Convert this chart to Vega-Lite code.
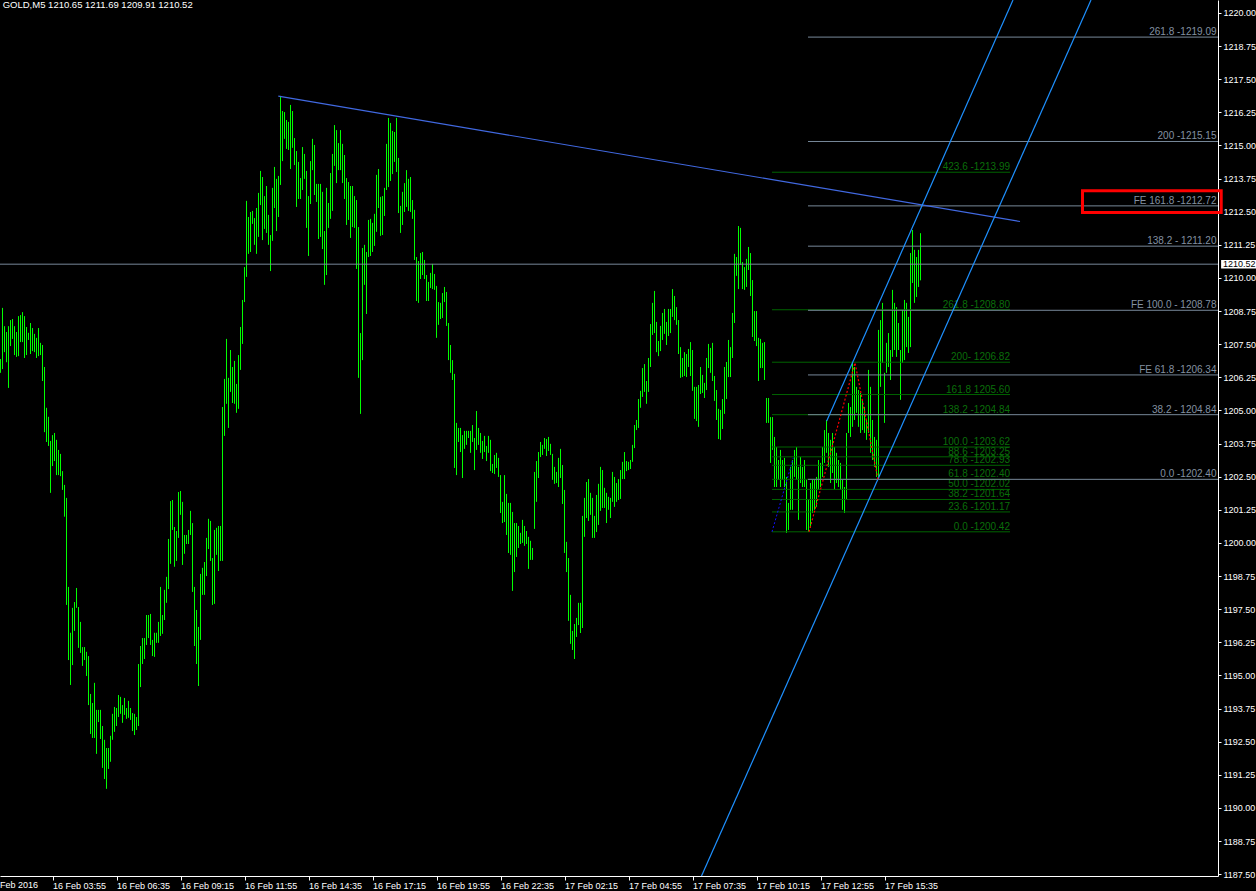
{
"$schema":"https://vega.github.io/schema/vega-lite/v6.json",
"width":1218,"height":876,
"autosize":{"type":"none"},
"padding":{"left":0,"top":0,"right":38,"bottom":15},
"background":"#000000",
"config":{"view":{"stroke":null},"axis":{"grid":false,"title":null,"labelOverlap":false,"labelFlush":false,"labelBound":false},"font":"Liberation Sans"},
"datasets":{
"bars":[
{"i":0,"h":1206.94,"l":1206.42},{"i":1,"h":1208.87,"l":1206.56},{"i":2,"h":1208.18,"l":1207.2},{"i":3,"h":1207.96,"l":1206.82},{"i":4,"h":1208.18,"l":1205.85},{"i":5,"h":1208.41,"l":1207.43},{"i":6,"h":1208.45,"l":1207.7},{"i":7,"h":1208.18,"l":1207.09},{"i":8,"h":1207.96,"l":1207.02},{"i":9,"h":1208.56,"l":1207.05},
{"i":10,"h":1208.6,"l":1207.58},{"i":11,"h":1208.71,"l":1207.58},{"i":12,"h":1208.56,"l":1206.98},{"i":13,"h":1208.15,"l":1207.09},{"i":14,"h":1207.93,"l":1207.66},{"i":15,"h":1208.3,"l":1207.13},{"i":16,"h":1208.11,"l":1207.24},{"i":17,"h":1207.89,"l":1207.2},{"i":18,"h":1207.74,"l":1206.98},{"i":19,"h":1208.11,"l":1207.05},
{"i":20,"h":1207.55,"l":1207.09},{"i":21,"h":1207.47,"l":1206.11},{"i":22,"h":1206.64,"l":1204.18},{"i":23,"h":1205.1,"l":1203.81},{"i":24,"h":1204.76,"l":1203.66},{"i":25,"h":1203.85,"l":1201.89},{"i":26,"h":1204.07,"l":1202.9},{"i":27,"h":1204.15,"l":1203.09},{"i":28,"h":1203.89,"l":1202.56},{"i":29,"h":1203.51,"l":1202.56},
{"i":30,"h":1203.36,"l":1202.52},{"i":31,"h":1202.71,"l":1202.0},{"i":32,"h":1202.19,"l":1200.99},{"i":33,"h":1201.7,"l":1197.66},{"i":34,"h":1198.34,"l":1195.58},{"i":35,"h":1196.61,"l":1194.64},{"i":36,"h":1197.55,"l":1195.39},{"i":37,"h":1197.77,"l":1196.68},{"i":38,"h":1198.3,"l":1197.55},{"i":39,"h":1197.58,"l":1196.04},
{"i":40,"h":1197.02,"l":1195.85},{"i":41,"h":1196.07,"l":1195.36},{"i":42,"h":1196.07,"l":1195.58},{"i":43,"h":1195.89,"l":1194.98},{"i":44,"h":1195.73,"l":1193.88},{"i":45,"h":1194.3,"l":1192.79},{"i":46,"h":1193.96,"l":1192.64},{"i":47,"h":1194.72,"l":1192.64},{"i":48,"h":1193.7,"l":1192.04},{"i":49,"h":1193.7,"l":1193.24},
{"i":50,"h":1193.7,"l":1192.6},{"i":51,"h":1193.09,"l":1191.51},{"i":52,"h":1192.57,"l":1191.09},{"i":53,"h":1192.26,"l":1190.72},{"i":54,"h":1192.26,"l":1191.47},{"i":55,"h":1192.72,"l":1191.74},{"i":56,"h":1193.55,"l":1192.57},{"i":57,"h":1193.81,"l":1192.87},{"i":58,"h":1193.77,"l":1193.09},{"i":59,"h":1194.26,"l":1193.43},
{"i":60,"h":1194.19,"l":1193.55},{"i":61,"h":1193.88,"l":1193.21},{"i":62,"h":1194.15,"l":1193.51},{"i":63,"h":1193.77,"l":1193.36},{"i":64,"h":1194.04,"l":1193.4},{"i":65,"h":1193.77,"l":1193.32},{"i":66,"h":1193.58,"l":1192.9},{"i":67,"h":1193.55,"l":1192.75},{"i":68,"h":1193.43,"l":1192.94},{"i":69,"h":1195.43,"l":1193.09},
{"i":70,"h":1196.11,"l":1194.56},{"i":71,"h":1196.41,"l":1195.43},{"i":72,"h":1196.41,"l":1195.62},{"i":73,"h":1197.28,"l":1196.15},{"i":74,"h":1197.28,"l":1196.41},{"i":75,"h":1197.32,"l":1196.15},{"i":76,"h":1196.34,"l":1195.73},{"i":77,"h":1196.61,"l":1195.7},{"i":78,"h":1196.61,"l":1196.23},{"i":79,"h":1197.02,"l":1196.23},
{"i":80,"h":1198.34,"l":1196.49},{"i":81,"h":1197.28,"l":1196.57},{"i":82,"h":1198.23,"l":1197.09},{"i":83,"h":1198.72,"l":1197.74},{"i":84,"h":1200.15,"l":1198.26},{"i":85,"h":1201.58,"l":1199.21},{"i":86,"h":1201.62,"l":1200.49},{"i":87,"h":1200.6,"l":1199.1},{"i":88,"h":1200.45,"l":1199.32},{"i":89,"h":1201.92,"l":1200.19},
{"i":90,"h":1201.96,"l":1201.06},{"i":91,"h":1201.55,"l":1199.17},{"i":92,"h":1200.3,"l":1199.59},{"i":93,"h":1200.3,"l":1199.96},{"i":94,"h":1200.49,"l":1199.96},{"i":95,"h":1201.21,"l":1200.3},{"i":96,"h":1200.75,"l":1198.15},{"i":97,"h":1198.34,"l":1196.11},{"i":98,"h":1197.47,"l":1195.43},{"i":99,"h":1196.83,"l":1194.6},
{"i":100,"h":1198.83,"l":1196.34},{"i":101,"h":1199.06,"l":1198.04},{"i":102,"h":1199.28,"l":1198.04},{"i":103,"h":1200.19,"l":1198.75},{"i":104,"h":1200.91,"l":1199.77},{"i":105,"h":1200.83,"l":1199.32},{"i":106,"h":1199.43,"l":1197.66},{"i":107,"h":1200.49,"l":1197.7},{"i":108,"h":1200.57,"l":1199.55},{"i":109,"h":1200.64,"l":1198.94},
{"i":110,"h":1200.64,"l":1199.32},{"i":111,"h":1205.13,"l":1199.32},{"i":112,"h":1206.19,"l":1204.04},{"i":113,"h":1207.7,"l":1205.25},{"i":114,"h":1206.23,"l":1204.34},{"i":115,"h":1207.28,"l":1205.7},{"i":116,"h":1206.64,"l":1205.28},{"i":117,"h":1206.87,"l":1205.25},{"i":118,"h":1206.0,"l":1204.91},{"i":119,"h":1207.09,"l":1205.06},
{"i":120,"h":1208.15,"l":1206.53},{"i":121,"h":1209.17,"l":1207.51},{"i":122,"h":1210.41,"l":1209.09},{"i":123,"h":1212.91,"l":1210.04},{"i":124,"h":1212.3,"l":1210.91},{"i":125,"h":1212.49,"l":1210.98},{"i":126,"h":1212.53,"l":1212.04},{"i":127,"h":1212.26,"l":1211.25},{"i":128,"h":1212.64,"l":1210.91},{"i":129,"h":1213.21,"l":1211.55},
{"i":130,"h":1214.04,"l":1212.75},{"i":131,"h":1213.81,"l":1211.43},{"i":132,"h":1213.09,"l":1211.85},{"i":133,"h":1213.47,"l":1211.7},{"i":134,"h":1212.38,"l":1211.25},{"i":135,"h":1211.62,"l":1210.26},{"i":136,"h":1213.4,"l":1211.4},{"i":137,"h":1214.19,"l":1212.64},{"i":138,"h":1213.74,"l":1211.77},{"i":139,"h":1213.85,"l":1212.3},
{"i":140,"h":1216.87,"l":1213.51},{"i":141,"h":1216.3,"l":1214.41},{"i":142,"h":1216.26,"l":1215.25},{"i":143,"h":1215.96,"l":1214.87},{"i":144,"h":1215.89,"l":1214.83},{"i":145,"h":1216.53,"l":1214.11},{"i":146,"h":1216.3,"l":1214.91},{"i":147,"h":1215.28,"l":1214.26},{"i":148,"h":1214.79,"l":1212.68},{"i":149,"h":1214.38,"l":1212.98},
{"i":150,"h":1213.77,"l":1212.98},{"i":151,"h":1214.94,"l":1213.32},{"i":152,"h":1214.68,"l":1213.74},{"i":153,"h":1214.04,"l":1211.89},{"i":154,"h":1213.09,"l":1210.83},{"i":155,"h":1214.41,"l":1212.79},{"i":156,"h":1215.25,"l":1214.07},{"i":157,"h":1215.02,"l":1213.13},{"i":158,"h":1213.55,"l":1212.87},{"i":159,"h":1213.55,"l":1211.47},
{"i":160,"h":1213.55,"l":1211.55},{"i":161,"h":1213.25,"l":1211.09},{"i":162,"h":1211.77,"l":1209.74},{"i":163,"h":1213.4,"l":1210.11},{"i":164,"h":1212.83,"l":1211.89},{"i":165,"h":1213.96,"l":1212.23},{"i":166,"h":1214.68,"l":1212.53},{"i":167,"h":1215.77,"l":1214.23},{"i":168,"h":1215.58,"l":1213.58},{"i":169,"h":1215.09,"l":1214.07},
{"i":170,"h":1215.58,"l":1214.07},{"i":171,"h":1215.06,"l":1213.58},{"i":172,"h":1214.64,"l":1212.98},{"i":173,"h":1213.77,"l":1212.0},{"i":174,"h":1213.62,"l":1212.19},{"i":175,"h":1213.47,"l":1211.51},{"i":176,"h":1213.47,"l":1211.92},{"i":177,"h":1213.09,"l":1211.89},{"i":178,"h":1212.94,"l":1210.34},{"i":179,"h":1211.92,"l":1206.23},
{"i":180,"h":1207.92,"l":1204.87},{"i":181,"h":1211.13,"l":1206.9},{"i":182,"h":1211.25,"l":1209.74},{"i":183,"h":1210.98,"l":1208.64},{"i":184,"h":1212.19,"l":1210.79},{"i":185,"h":1212.23,"l":1210.83},{"i":186,"h":1212.08,"l":1210.98},{"i":187,"h":1212.42,"l":1211.21},{"i":188,"h":1213.89,"l":1211.74},{"i":189,"h":1214.11,"l":1212.64},
{"i":190,"h":1213.06,"l":1211.59},{"i":191,"h":1213.09,"l":1211.62},{"i":192,"h":1213.4,"l":1212.34},{"i":193,"h":1215.06,"l":1213.32},{"i":194,"h":1216.04,"l":1213.43},{"i":195,"h":1215.85,"l":1213.66},{"i":196,"h":1215.55,"l":1213.92},{"i":197,"h":1215.51,"l":1214.38},{"i":198,"h":1216.04,"l":1214.0},{"i":199,"h":1214.53,"l":1212.45},
{"i":200,"h":1212.72,"l":1211.7},{"i":201,"h":1213.25,"l":1212.0},{"i":202,"h":1213.58,"l":1212.49},{"i":203,"h":1214.07,"l":1212.68},{"i":204,"h":1213.74,"l":1212.53},{"i":205,"h":1213.81,"l":1212.49},{"i":206,"h":1212.94,"l":1212.23},{"i":207,"h":1212.57,"l":1210.68},{"i":208,"h":1210.79,"l":1209.13},{"i":209,"h":1210.64,"l":1209.06},
{"i":210,"h":1210.94,"l":1209.96},{"i":211,"h":1210.98,"l":1210.11},{"i":212,"h":1210.68,"l":1209.96},{"i":213,"h":1210.11,"l":1209.13},{"i":214,"h":1209.85,"l":1209.13},{"i":215,"h":1210.19,"l":1209.62},{"i":216,"h":1210.53,"l":1209.58},{"i":217,"h":1210.15,"l":1209.55},{"i":218,"h":1209.7,"l":1207.74},{"i":219,"h":1209.09,"l":1208.23},
{"i":220,"h":1209.06,"l":1208.45},{"i":221,"h":1209.43,"l":1208.49},{"i":222,"h":1209.66,"l":1209.09},{"i":223,"h":1209.47,"l":1208.19},{"i":224,"h":1208.3,"l":1206.9},{"i":225,"h":1207.47,"l":1206.42},{"i":226,"h":1206.9,"l":1206.15},{"i":227,"h":1206.38,"l":1202.83},{"i":228,"h":1204.53,"l":1202.56},{"i":229,"h":1204.34,"l":1203.81},
{"i":230,"h":1204.34,"l":1203.43},{"i":231,"h":1204.07,"l":1202.45},{"i":232,"h":1204.23,"l":1203.55},{"i":233,"h":1204.23,"l":1203.7},{"i":234,"h":1204.23,"l":1203.96},{"i":235,"h":1204.23,"l":1203.4},{"i":236,"h":1204.45,"l":1203.81},{"i":237,"h":1203.96,"l":1202.75},{"i":238,"h":1204.98,"l":1203.51},{"i":239,"h":1204.34,"l":1203.7},
{"i":240,"h":1204.15,"l":1203.4},{"i":241,"h":1203.85,"l":1203.17},{"i":242,"h":1204.04,"l":1203.43},{"i":243,"h":1203.66,"l":1203.09},{"i":244,"h":1204.04,"l":1203.4},{"i":245,"h":1203.89,"l":1202.71},{"i":246,"h":1202.98,"l":1202.64},{"i":247,"h":1203.32,"l":1202.6},{"i":248,"h":1203.4,"l":1202.83},{"i":249,"h":1203.21,"l":1202.49},
{"i":250,"h":1202.56,"l":1201.13},{"i":251,"h":1201.55,"l":1200.75},{"i":252,"h":1202.56,"l":1200.79},{"i":253,"h":1201.85,"l":1200.3},{"i":254,"h":1201.51,"l":1199.62},{"i":255,"h":1201.51,"l":1199.55},{"i":256,"h":1201.17,"l":1198.19},{"i":257,"h":1200.75,"l":1198.9},{"i":258,"h":1200.75,"l":1199.47},{"i":259,"h":1200.64,"l":1199.81},
{"i":260,"h":1200.38,"l":1199.96},{"i":261,"h":1200.87,"l":1200.0},{"i":262,"h":1200.64,"l":1199.89},{"i":263,"h":1200.45,"l":1199.96},{"i":264,"h":1200.23,"l":1199.02},{"i":265,"h":1200.08,"l":1199.36},{"i":266,"h":1199.81,"l":1199.36},{"i":267,"h":1202.68,"l":1200.53},{"i":268,"h":1203.09,"l":1201.55},{"i":269,"h":1203.43,"l":1202.45},
{"i":270,"h":1203.81,"l":1203.24},{"i":271,"h":1203.7,"l":1203.32},{"i":272,"h":1203.96,"l":1203.55},{"i":273,"h":1203.92,"l":1203.28},{"i":274,"h":1204.0,"l":1203.47},{"i":275,"h":1203.74,"l":1203.32},{"i":276,"h":1203.36,"l":1202.38},{"i":277,"h":1202.87,"l":1202.23},{"i":278,"h":1202.68,"l":1202.26},{"i":279,"h":1203.21,"l":1202.11},
{"i":280,"h":1203.55,"l":1202.45},{"i":281,"h":1202.94,"l":1201.47},{"i":282,"h":1202.0,"l":1199.62},{"i":283,"h":1200.04,"l":1198.9},{"i":284,"h":1199.43,"l":1197.06},{"i":285,"h":1198.04,"l":1196.19},{"i":286,"h":1196.68,"l":1195.96},{"i":287,"h":1196.94,"l":1195.62},{"i":288,"h":1197.17,"l":1196.45},{"i":289,"h":1197.74,"l":1196.9},
{"i":290,"h":1197.74,"l":1196.6},{"i":291,"h":1201.02,"l":1196.79},{"i":292,"h":1201.7,"l":1200.23},{"i":293,"h":1202.3,"l":1200.94},{"i":294,"h":1202.41,"l":1200.83},{"i":295,"h":1201.89,"l":1201.06},{"i":296,"h":1201.7,"l":1200.19},{"i":297,"h":1201.02,"l":1200.19},{"i":298,"h":1201.81,"l":1200.41},{"i":299,"h":1202.23,"l":1200.68},
{"i":300,"h":1202.87,"l":1201.21},{"i":301,"h":1202.75,"l":1201.32},{"i":302,"h":1202.08,"l":1201.32},{"i":303,"h":1201.89,"l":1200.75},{"i":304,"h":1201.74,"l":1201.25},{"i":305,"h":1201.7,"l":1200.94},{"i":306,"h":1202.68,"l":1201.55},{"i":307,"h":1202.49,"l":1201.36},{"i":308,"h":1202.26,"l":1201.55},{"i":309,"h":1202.41,"l":1201.62},
{"i":310,"h":1202.75,"l":1201.66},{"i":311,"h":1203.06,"l":1202.41},{"i":312,"h":1203.43,"l":1202.41},{"i":313,"h":1203.09,"l":1202.71},{"i":314,"h":1203.06,"l":1202.75},{"i":315,"h":1203.13,"l":1202.79},{"i":316,"h":1203.7,"l":1203.06},{"i":317,"h":1204.45,"l":1203.58},{"i":318,"h":1204.64,"l":1204.26},{"i":319,"h":1205.43,"l":1204.34},
{"i":320,"h":1205.74,"l":1205.1},{"i":321,"h":1206.6,"l":1205.51},{"i":322,"h":1206.75,"l":1205.7},{"i":323,"h":1206.11,"l":1205.25},{"i":324,"h":1206.98,"l":1205.7},{"i":325,"h":1208.26,"l":1206.64},{"i":326,"h":1209.06,"l":1207.85},{"i":327,"h":1209.51,"l":1207.92},{"i":328,"h":1208.34,"l":1207.2},{"i":329,"h":1207.62,"l":1207.05},
{"i":330,"h":1208.19,"l":1207.24},{"i":331,"h":1208.68,"l":1207.66},{"i":332,"h":1208.83,"l":1207.89},{"i":333,"h":1208.34,"l":1207.47},{"i":334,"h":1208.83,"l":1207.81},{"i":335,"h":1208.83,"l":1207.92},{"i":336,"h":1209.58,"l":1208.53},{"i":337,"h":1209.32,"l":1208.41},{"i":338,"h":1208.9,"l":1208.23},{"i":339,"h":1208.41,"l":1207.13},
{"i":340,"h":1207.39,"l":1206.23},{"i":341,"h":1206.98,"l":1206.26},{"i":342,"h":1207.2,"l":1206.3},{"i":343,"h":1207.13,"l":1206.26},{"i":344,"h":1207.32,"l":1206.64},{"i":345,"h":1207.58,"l":1206.3},{"i":346,"h":1207.28,"l":1205.74},{"i":347,"h":1205.89,"l":1204.68},{"i":348,"h":1205.89,"l":1204.6},{"i":349,"h":1205.96,"l":1204.38},
{"i":350,"h":1206.64,"l":1205.62},{"i":351,"h":1206.34,"l":1205.66},{"i":352,"h":1206.04,"l":1205.47},{"i":353,"h":1206.98,"l":1205.77},{"i":354,"h":1207.51,"l":1206.6},{"i":355,"h":1207.36,"l":1206.42},{"i":356,"h":1207.55,"l":1206.11},{"i":357,"h":1206.3,"l":1205.36},{"i":358,"h":1205.77,"l":1204.64},{"i":359,"h":1205.06,"l":1203.92},
{"i":360,"h":1205.02,"l":1203.89},{"i":361,"h":1205.43,"l":1204.3},{"i":362,"h":1206.64,"l":1204.87},{"i":363,"h":1206.83,"l":1205.43},{"i":364,"h":1207.66,"l":1206.26},{"i":365,"h":1207.39,"l":1206.26},{"i":366,"h":1208.68,"l":1206.98},{"i":367,"h":1210.91,"l":1208.3},{"i":368,"h":1210.79,"l":1210.08},{"i":369,"h":1211.96,"l":1209.58},
{"i":370,"h":1211.89,"l":1210.49},{"i":371,"h":1210.6,"l":1209.58},{"i":372,"h":1210.41,"l":1209.55},{"i":373,"h":1210.72,"l":1209.66},{"i":374,"h":1211.17,"l":1210.3},{"i":375,"h":1210.94,"l":1209.32},{"i":376,"h":1209.92,"l":1207.77},{"i":377,"h":1208.75,"l":1207.62},{"i":378,"h":1208.75,"l":1207.43},{"i":379,"h":1207.74,"l":1206.11},
{"i":380,"h":1207.7,"l":1206.6},{"i":381,"h":1207.55,"l":1206.6},{"i":382,"h":1207.58,"l":1206.15},{"i":383,"h":1205.47,"l":1204.53},{"i":384,"h":1205.47,"l":1204.53},{"i":385,"h":1204.75,"l":1203.02},{"i":386,"h":1204.75,"l":1203.51},{"i":387,"h":1204.0,"l":1202.11},{"i":388,"h":1203.62,"l":1202.11},{"i":389,"h":1203.13,"l":1202.38},
{"i":390,"h":1203.51,"l":1202.11},{"i":391,"h":1203.13,"l":1202.38},{"i":392,"h":1203.21,"l":1202.11},{"i":393,"h":1202.49,"l":1200.38},{"i":394,"h":1201.51,"l":1200.49},{"i":395,"h":1202.87,"l":1201.25},{"i":396,"h":1203.13,"l":1201.25},{"i":397,"h":1203.51,"l":1202.49},{"i":398,"h":1203.62,"l":1202.38},{"i":399,"h":1202.87,"l":1200.87},
{"i":400,"h":1203.24,"l":1202.26},{"i":401,"h":1202.87,"l":1202.11},{"i":402,"h":1203.13,"l":1202.11},{"i":403,"h":1202.38,"l":1200.49},{"i":404,"h":1201.62,"l":1200.42},{"i":405,"h":1202.26,"l":1200.57},{"i":406,"h":1202.38,"l":1201.13},{"i":407,"h":1202.38,"l":1201.25},{"i":408,"h":1202.49,"l":1201.36},{"i":409,"h":1203.13,"l":1202.0},
{"i":410,"h":1203.02,"l":1202.11},{"i":411,"h":1203.62,"l":1202.49},{"i":412,"h":1204.26,"l":1203.02},{"i":413,"h":1204.64,"l":1203.4},{"i":414,"h":1204.15,"l":1202.87},{"i":415,"h":1203.89,"l":1202.26},{"i":416,"h":1204.15,"l":1202.64},{"i":417,"h":1203.62,"l":1202.0},{"i":418,"h":1203.4,"l":1202.26},{"i":419,"h":1203.13,"l":1202.11},
{"i":420,"h":1203.02,"l":1202.0},{"i":421,"h":1202.38,"l":1201.25},{"i":422,"h":1202.11,"l":1201.13},{"i":423,"h":1204.15,"l":1201.62},{"i":424,"h":1205.28,"l":1204.15},{"i":425,"h":1205.13,"l":1204.0},{"i":426,"h":1206.79,"l":1204.38},{"i":427,"h":1206.64,"l":1204.64},{"i":428,"h":1205.89,"l":1204.91},{"i":429,"h":1205.77,"l":1204.38},
{"i":430,"h":1205.66,"l":1204.15},{"i":431,"h":1205.4,"l":1204.26},{"i":432,"h":1205.13,"l":1204.15},{"i":433,"h":1204.64,"l":1203.89},{"i":434,"h":1206.53,"l":1204.15},{"i":435,"h":1205.89,"l":1203.4},{"i":436,"h":1204.64,"l":1203.13},{"i":437,"h":1204.0,"l":1202.87},{"i":438,"h":1203.89,"l":1202.49},{"i":439,"h":1208.04,"l":1202.4},
{"i":440,"h":1208.41,"l":1205.89},{"i":441,"h":1209.06,"l":1206.79},{"i":442,"h":1206.42,"l":1204.53},{"i":443,"h":1207.55,"l":1206.42},{"i":444,"h":1207.92,"l":1206.64},{"i":445,"h":1207.28,"l":1206.15},{"i":446,"h":1209.55,"l":1207.02},{"i":447,"h":1209.06,"l":1207.28},{"i":448,"h":1208.9,"l":1207.02},{"i":449,"h":1208.3,"l":1207.28},
{"i":450,"h":1207.28,"l":1205.4},{"i":451,"h":1208.79,"l":1206.79},{"i":452,"h":1209.17,"l":1206.9},{"i":453,"h":1209.06,"l":1207.39},{"i":454,"h":1208.53,"l":1207.17},{"i":455,"h":1210.94,"l":1207.39},{"i":456,"h":1211.81,"l":1209.81},{"i":457,"h":1211.06,"l":1209.06},{"i":458,"h":1210.79,"l":1209.28},{"i":459,"h":1211.06,"l":1209.66},
{"i":460,"h":1211.69,"l":1209.91}
],
"green":[
{"p":1213.99,"t":"423.6 -1213.99"},{"p":1208.80,"t":"261.8 -1208.80"},{"p":1206.82,"t":"200- 1206.82"},{"p":1205.60,"t":"161.8 1205.60"},{"p":1204.84,"t":"138.2  -1204.84"},{"p":1203.62,"t":"100.0 -1203.62"},{"p":1203.25,"t":"88.6 -1203.25"},{"p":1202.93,"t":"78.6 -1202.93"},{"p":1202.40,"t":"61.8 -1202.40"},{"p":1202.02,"t":"50.0 -1202.02"},{"p":1201.64,"t":"38.2 -1201.64"},{"p":1201.17,"t":"23.6 -1201.17"},{"p":1200.42,"t":"0.0 -1200.42"}
],
"gray":[
{"p":1219.09,"t":"261.8 -1219.09"},{"p":1215.15,"t":"200 -1215.15"},{"p":1212.72,"t":"FE 161.8 -1212.72"},{"p":1211.20,"t":"138.2 - 1211.20"},{"p":1208.78,"t":"FE 100.0 - 1208.78"},{"p":1206.34,"t":"FE 61.8 -1206.34"},{"p":1204.84,"t":"38.2 - 1204.84"},{"p":1202.40,"t":"0.0 -1202.40"}
],
"segs":[
{"k":"trend","i":138.9,"p":1216.86,"i2":509.75,"p2":1212.13},
{"k":"ch1","i":350.5,"p":1187.43,"i2":545.25,"p2":1220.49},
{"k":"ch2","i":413.1,"p":1204.60,"i2":506.25,"p2":1220.49}
],
"base":[{"i":385.75,"p":1200.42,"i2":396.4,"p2":1203.21}],
"fe":[{"i":404.25,"p":1200.42},{"i":427.25,"p":1206.80},{"i":438.75,"p":1202.40}],
"box":[{"i":541.0,"i2":610.35,"p":1213.29,"p2":1212.47}],
"one":[{}]
},
"layer":[
{"data":{"name":"bars"},"mark":{"type":"rule","strokeWidth":1,"color":"#00ff00"},
 "encoding":{
  "x":{"field":"i","type":"quantitative","scale":{"domain":[-0.25,608.75],"nice":false,"zero":false},
   "axis":{"orient":"bottom","title":null,"values":[26,58,90,122,154,186,218,250,282,314,346,378,410,442],"tickCount":40,
    "labelExpr":"['16 Feb 03:55','16 Feb 06:35','16 Feb 09:15','16 Feb 11:55','16 Feb 14:35','16 Feb 17:15','16 Feb 19:55','16 Feb 22:35','17 Feb 02:15','17 Feb 04:55','17 Feb 07:35','17 Feb 10:15','17 Feb 12:55','17 Feb 15:35'][(datum.value-26)/32]",
    "domainColor":"#ffffff","domainWidth":1,"tickColor":"#ffffff","tickSize":4,"labelColor":"#ffffff","labelFont":"Liberation Sans","labelFontSize":9,"labelAlign":"left","labelBaseline":"top","labelPadding":1,"labelOverlap":false,"labelFlush":false,"labelBound":false,"grid":false}},
  "y":{"field":"l","type":"quantitative","scale":{"domain":[1187.43,1220.49],"nice":false,"zero":false},
   "axis":{"orient":"right","title":null,"tickCount":60,"values":[1187.5,1188.75,1190,1191.25,1192.5,1193.75,1195,1196.25,1197.5,1198.75,1200,1201.25,1202.5,1203.75,1205,1206.25,1207.5,1208.75,1210,1211.25,1212.5,1213.75,1215,1216.25,1217.5,1218.75,1220],
    "format":".2f","domainColor":"#ffffff","domainWidth":1,"tickColor":"#ffffff","tickSize":3,"labelColor":"#ffffff","labelFont":"Liberation Sans","labelFontSize":9,"labelAlign":"left","labelBaseline":"middle","labelPadding":2,"labelOverlap":false,"labelFlush":false,"labelBound":false,"grid":false}},
  "y2":{"field":"h"}}},
{"data":{"name":"green"},"mark":{"type":"rule","color":"#006400","strokeWidth":1},
 "encoding":{"x":{"datum":385.75,"type":"quantitative"},"x2":{"datum":504.75},"y":{"field":"p","type":"quantitative"}}},
{"data":{"name":"green"},"mark":{"type":"text","color":"#0a6e0a","align":"right","baseline":"alphabetic","dy":-2,"font":"Liberation Sans","fontSize":10},
 "encoding":{"x":{"datum":504.75,"type":"quantitative"},"y":{"field":"p","type":"quantitative"},"text":{"field":"t"}}},
{"data":{"name":"gray"},"mark":{"type":"rule","color":"#778899","strokeWidth":1},
 "encoding":{"x":{"datum":403.75,"type":"quantitative"},"x2":{"datum":608.75},"y":{"field":"p","type":"quantitative"}}},
{"data":{"name":"gray"},"mark":{"type":"text","color":"#8391a2","align":"right","baseline":"alphabetic","dy":-2,"font":"Liberation Sans","fontSize":10},
 "encoding":{"x":{"datum":608.0,"type":"quantitative"},"y":{"field":"p","type":"quantitative"},"text":{"field":"t"}}},
{"data":{"name":"one"},"mark":{"type":"rule","color":"#778899","strokeWidth":1},
 "encoding":{"x":{"datum":-0.25,"type":"quantitative"},"x2":{"datum":608.75},"y":{"datum":1210.52,"type":"quantitative"}}},
{"data":{"name":"segs"},"mark":{"type":"rule","strokeWidth":1.2},
 "encoding":{"x":{"field":"i","type":"quantitative"},"x2":{"field":"i2"},"y":{"field":"p","type":"quantitative"},"y2":{"field":"p2"},
  "color":{"field":"k","type":"nominal","legend":null,"scale":{"domain":["trend","ch1","ch2"],"range":["#4169e1","#1e90ff","#1e90ff"]}}}},
{"data":{"name":"base"},"mark":{"type":"rule","color":"#1010ff","strokeWidth":1,"strokeDash":[2,2]},
 "encoding":{"x":{"field":"i","type":"quantitative"},"x2":{"field":"i2"},"y":{"field":"p","type":"quantitative"},"y2":{"field":"p2"}}},
{"data":{"name":"fe"},"mark":{"type":"line","color":"#ff0000","strokeWidth":1.2,"strokeDash":[2,2]},
 "encoding":{"x":{"field":"i","type":"quantitative"},"y":{"field":"p","type":"quantitative"}}},
{"data":{"name":"box"},"mark":{"type":"rect","fill":"transparent","stroke":"#ff0000","strokeWidth":3},
 "encoding":{"x":{"field":"i","type":"quantitative"},"x2":{"field":"i2"},"y":{"field":"p","type":"quantitative"},"y2":{"field":"p2"}}},
{"data":{"name":"one"},"mark":{"type":"rect","fill":"#ffffff"},
 "encoding":{"x":{"datum":610.3,"type":"quantitative"},"x2":{"datum":628},"y":{"datum":1210.68,"type":"quantitative"},"y2":{"datum":1210.36}}},
{"data":{"name":"one"},"mark":{"type":"text","color":"#000000","align":"left","baseline":"middle","font":"Liberation Sans","fontSize":9},
 "encoding":{"x":{"datum":611.2,"type":"quantitative"},"y":{"datum":1210.52,"type":"quantitative"},"text":{"value":"1210.52"}}},
{"data":{"name":"one"},"mark":{"type":"text","color":"#ffffff","align":"left","baseline":"alphabetic","font":"Liberation Sans","fontSize":9.5},
 "encoding":{"x":{"datum":1.1,"type":"quantitative"},"y":{"datum":1220.17,"type":"quantitative"},"text":{"value":"GOLD,M5  1210.65 1211.69 1209.91 1210.52"}}},
{"data":{"name":"one"},"mark":{"type":"text","color":"#ffffff","align":"left","baseline":"top","font":"Liberation Sans","fontSize":9},
 "encoding":{"x":{"datum":-0.25,"type":"quantitative"},"y":{"datum":1187.25,"type":"quantitative"},"text":{"value":"Feb 2016"}}}
]
}
